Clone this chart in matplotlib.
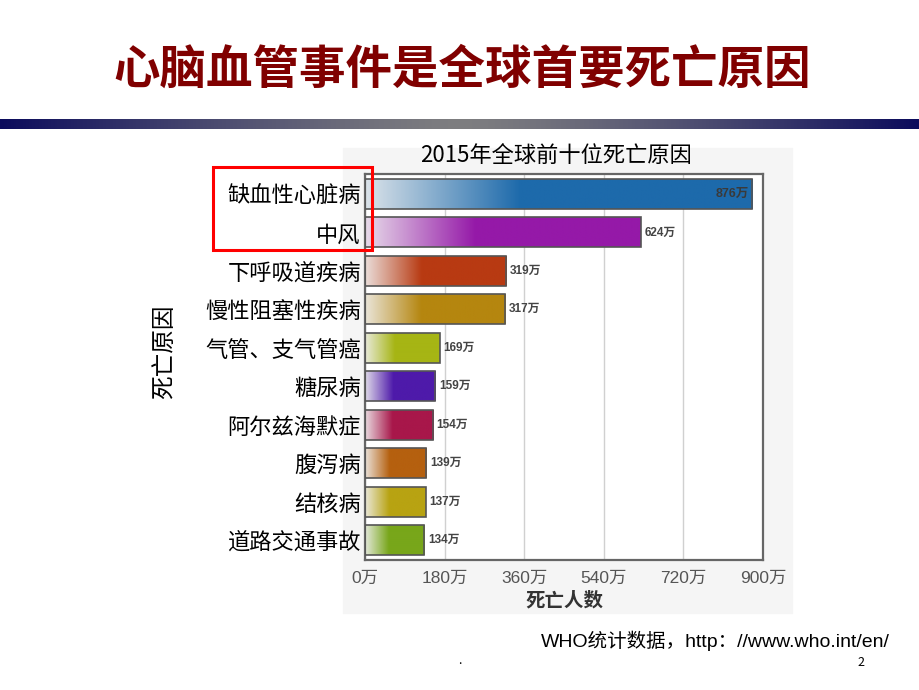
import numpy as np
import matplotlib
matplotlib.use("Agg")
import matplotlib.pyplot as plt
from matplotlib.colors import to_rgb
from matplotlib.patches import Rectangle

plt.rcParams['font.family'] = ['Noto Sans CJK SC', 'DejaVu Sans']

# 資料
causes = ["缺血性心脏病", "中风", "下呼吸道疾病", "慢性阻塞性疾病", "气管、支气管癌",
          "糖尿病", "阿尔兹海默症", "腹泻病", "结核病", "道路交通事故"]
deaths = [876, 624, 319, 317, 169, 159, 154, 139, 137, 134]  # 万
bar_colors = ["#1d6aab", "#9519a8", "#b83a12", "#b5860f", "#a6b514",
              "#4e1aaa", "#a8174a", "#b5600f", "#b8a312", "#78a61a"]
xticks = [0, 180, 360, 540, 720, 900]

W, H = 920, 690
fig = plt.figure(figsize=(W / 100, H / 100), dpi=100)


def fx(px):
    return px / W


def fy(py):
    return 1 - py / H


# 標題
fig.text(0.502, fy(70), "心脑血管事件是全球首要死亡原因", ha="center", va="center",
         fontsize=33.5, fontweight="bold", color="#800000")

# 標題下方漸層條
bar_ax = fig.add_axes([0, fy(129), 1, 10 / H])
t = np.abs(np.linspace(-1, 1, 400))
navy = np.array(to_rgb("#0b0b5c"))
gray = np.array(to_rgb("#7e7e80"))
grad = gray[None, :] * (1 - t[:, None] ** 1.3) + navy[None, :] * (t[:, None] ** 1.3)
bar_ax.imshow(grad[None, :, :], aspect="auto", extent=[0, 1, 0, 1])
bar_ax.axis("off")

# 圖表背景
bg = Rectangle((fx(343), fy(613)), fx(792) - fx(343), fy(148) - fy(613),
               transform=fig.transFigure, color="#f5f5f5", zorder=-5)
fig.add_artist(bg)

ax = fig.add_axes([fx(365), fy(560), fx(763) - fx(365), fy(174) - fy(560)])
ax.set_zorder(2)
ax.set_facecolor("white")

ypos = np.arange(len(causes))
h = 0.78
lab_font = ["Liberation Sans", "Noto Sans CJK SC"]
for i, (v, c) in enumerate(zip(deaths, bar_colors)):
    col = np.array(to_rgb(c))
    light = 0.1 * col + 0.9 * np.array(to_rgb("#f0f0f0"))
    s = np.linspace(0, 1, 300)
    f = np.clip(s / 0.4, 0, 1)
    img = light[None, :] * (1 - f[:, None]) + col[None, :] * f[:, None]
    ax.imshow(img[None, :, :], aspect="auto", extent=[0, v, i + h / 2, i - h / 2], zorder=2)
    ax.barh(i, v, height=h, fill=False, edgecolor="#555555", linewidth=1.2, zorder=3)
    if v > 800:
        ax.text(v - 8, i, f"{v}万", ha="right", va="center", fontsize=9, fontweight="bold",
                color="#3a3a3a", family=lab_font, zorder=4)
    else:
        ax.text(v + 8, i, f"{v}万", ha="left", va="center", fontsize=8.5, fontweight="bold",
                color="#444444", family=lab_font, zorder=4)

ax.set_xlim(0, 900)
ax.set_ylim(len(causes) - 0.48, -0.52)
ax.set_xticks(xticks)
ax.set_xticklabels([f"{x}万" for x in xticks], family=lab_font,
                   fontsize=12.5, color="#555555")
ax.set_yticks(ypos)
ax.set_yticklabels(causes, fontsize=16, color="black")
ax.tick_params(axis="both", length=0)
ax.tick_params(axis="x", pad=8)
ax.tick_params(axis="y", pad=3)
ax.grid(axis="x", color="#d0d0d0", linewidth=1, zorder=0)
ax.set_axisbelow(True)
for sp in ax.spines.values():
    sp.set_color("#666666")
    sp.set_linewidth(1.6)

ax.set_xlabel("死亡人数", fontsize=14, fontweight="bold", color="#333333", labelpad=4)

fig.text(fx(556), fy(155), "2015年全球前十位死亡原因", ha="center", va="center",
         fontsize=16, color="black")
fig.text(fx(165), fy(352), "死亡原因", ha="center", va="center", rotation=90,
         fontsize=17, color="black")

# 紅框
box = Rectangle((fx(213), fy(250)), fx(372) - fx(213), fy(167) - fy(250),
                transform=fig.transFigure, fill=False, edgecolor="#ff0000",
                linewidth=2.2, zorder=5)
fig.add_artist(box)

fig.text(fx(890), fy(641), "WHO统计数据，http：//www.who.int/en/", ha="right", va="center",
         fontsize=14, color="black", family=lab_font)
fig.text(fx(861), fy(662), "2", ha="center", va="center", fontsize=9, color="black")
fig.text(fx(460), fy(660), ".", ha="center", va="center", fontsize=9, color="black")

fig.savefig("out.png", dpi=100)
